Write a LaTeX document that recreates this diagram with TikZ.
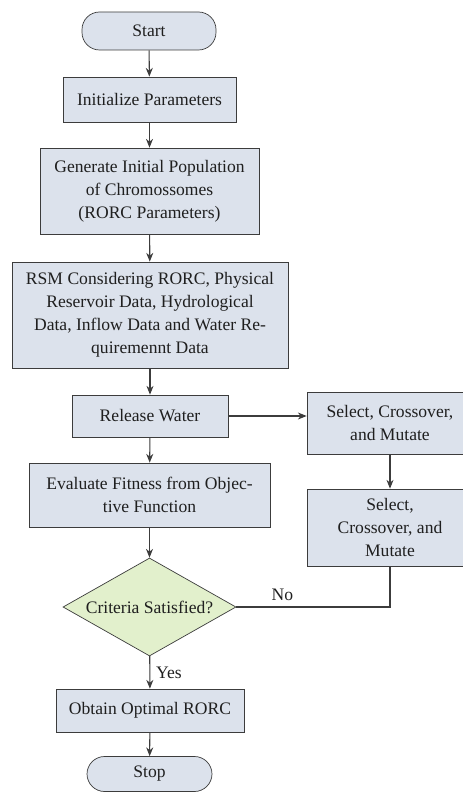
\documentclass[tikz,border=0pt]{standalone}
\usepackage{fontspec}
\setmainfont{Liberation Serif}
\usepackage{xcolor}
\usepackage{tikz}
\usetikzlibrary{arrows.meta,shapes.geometric}

\definecolor{boxfill}{RGB}{220,226,236}
\definecolor{critfill}{RGB}{226,240,204}
\definecolor{edgegray}{RGB}{60,60,60}

\begin{document}
\begin{tikzpicture}[
  font=\fontsize{10}{13}\selectfont,
  every node/.style={text=black!88},
  procbox/.style={draw=edgegray,fill=boxfill,rectangle,align=center,inner sep=2pt},
  termbox/.style={draw=edgegray,fill=boxfill,rectangle,rounded corners=10pt,align=center,inner sep=2pt},
  critbox/.style={draw=edgegray,fill=critfill,diamond,aspect=1.77,inner sep=1pt,align=center},
  flow/.style={draw=edgegray,line width=0.6pt,-{Stealth[length=5pt,width=4pt]}},
  link/.style={draw=edgegray,line width=0.6pt}
]
\useasboundingbox (0,0) rectangle (9.24,-15.86);

% Main column
\node[termbox,minimum width=2.68cm,minimum height=0.76cm] (start) at (2.98,-0.62) {Start};
\node[procbox,minimum width=3.46cm,minimum height=0.90cm] (init) at (2.99,-1.99) {Initialize Parameters};
\node[procbox,minimum width=4.38cm,minimum height=1.72cm] (gen) at (2.99,-3.82)
  {Generate Initial Population\\of Chromossomes\\(RORC Parameters)};
\node[procbox,minimum width=5.52cm,minimum height=2.12cm] (rsm) at (3.00,-6.30)
  {RSM Considering RORC, Physical\\Reservoir Data, Hydrological\\Data, Inflow Data and Water Re-\\quiremennt Data};
\node[procbox,minimum width=3.12cm,minimum height=0.84cm] (rel) at (3.00,-8.32) {Release Water};
\node[procbox,minimum width=4.82cm,minimum height=1.28cm] (eval) at (2.99,-9.90)
  {Evaluate Fitness from Objec-\\tive Function};
\node[critbox,minimum width=3.46cm,minimum height=1.96cm] (crit) at (2.99,-12.14) {Criteria Satisfied?};
\node[procbox,minimum width=3.76cm,minimum height=0.86cm] (obt) at (3.00,-14.21) {Obtain Optimal RORC};
\node[termbox,minimum width=2.50cm,minimum height=0.70cm] (stop) at (2.99,-15.48) {Stop};

% Side column
\node[procbox,minimum width=3.32cm,minimum height=1.24cm] (sel1) at (7.80,-8.46)
  {Select, Crossover,\\and Mutate};
\node[procbox,minimum width=3.32cm,minimum height=1.54cm] (sel2) at (7.80,-10.55)
  {Select,\\Crossover, and\\Mutate};

% Arrows
\draw[flow] (start) -- (init);
\draw[flow] (init) -- (gen);
\draw[flow] (gen) -- (rsm);
\draw[flow] (rsm) -- (rel);
\draw[flow] (rel) -- (eval);
\draw[flow] (eval) -- (crit);
\draw[flow] (crit) -- node[right] {Yes} (obt);
\draw[flow] (obt) -- (stop);
\draw[flow] (rel.east) -- (rel.east -| sel1.west);
\draw[flow] (sel1) -- (sel2);
\draw[link] (sel2.south) |- node[above,pos=0.85] {No} (crit.east);
\end{tikzpicture}
\end{document}
